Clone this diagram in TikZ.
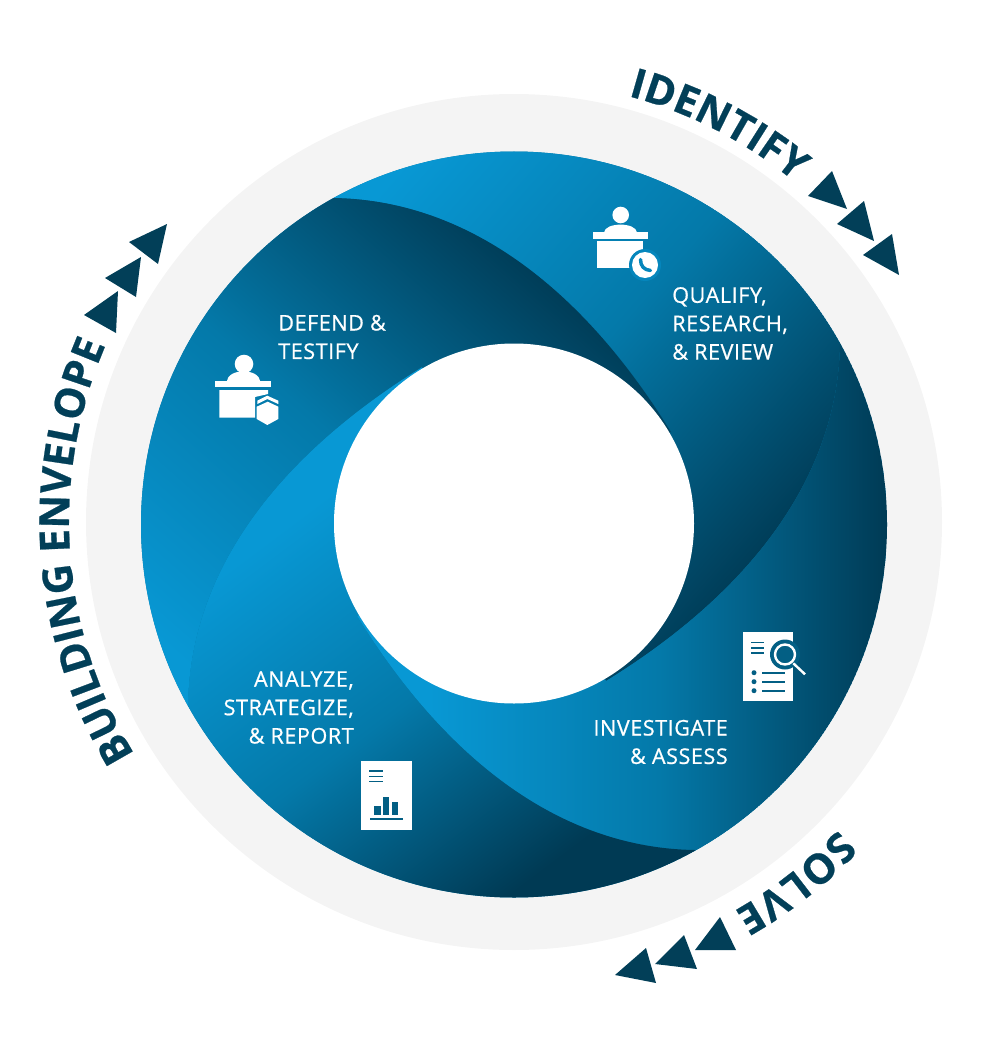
\documentclass[tikz,border=0pt]{standalone}
\usepackage{fontspec}
\usetikzlibrary{decorations.text}
\setmainfont{Open Sans}[BoldFeatures={FakeBold=0.6}]
\newfontfamily\lblfont[FakeBold=0.7,LetterSpace=2.5]{Open Sans}
\definecolor{bladeL}{HTML}{0898D4}
\definecolor{bladeM}{HTML}{0479A9}
\definecolor{bladeD}{HTML}{003A54}
\definecolor{ringgrey}{HTML}{F4F4F4}
\definecolor{navy}{HTML}{023F58}
\definecolor{iconblue}{HTML}{0586BC}
\definecolor{iconteal}{HTML}{035F84}
\pgfdeclarehorizontalshading{bladeTR}{100bp}{color(0bp)=(bladeL); color(29.9bp)=(bladeL); color(46.7bp)=(bladeM); color(63.6bp)=(bladeD); color(100bp)=(bladeD)}
\pgfdeclarehorizontalshading{bladeBR}{100bp}{color(0bp)=(bladeL); color(44.7bp)=(bladeL); color(59.1bp)=(bladeM); color(73.5bp)=(bladeD); color(100bp)=(bladeD)}
\pgfdeclarehorizontalshading{bladeBL}{100bp}{color(0bp)=(bladeL); color(41.5bp)=(bladeL); color(54.9bp)=(bladeM); color(68.4bp)=(bladeD); color(100bp)=(bladeD)}
\tikzset{
  tri/.style={fill=navy},
  lbl/.style={text=white,inner sep=0pt,font=\lblfont\fontsize{16.2}{21.3}\selectfont},
  ttl/.style={decorate,decoration={text along path,text align=fit to path,text color=navy,text format delimiters={|}{|}}}
}
\newcommand{\bladeshape}{(-235,-424) -- (154,-600) -- (424,-235) -- (326,-181) .. controls (324,-42) and (230,72) .. (92,157) -- (0,0) -- (157,-92) .. controls (72,-230) and (-42,-324) .. (-181,-326) -- cycle}
\newcommand{\ttlsize}{\bfseries\fontsize{31}{31}\selectfont}
\begin{document}
\begin{tikzpicture}[x=0.75pt,y=-0.75pt]
\useasboundingbox (0,0) rectangle (1000,1045);
\coordinate (g) at (514,522);
\coordinate (c) at (514,524.5);
\coordinate (h) at (514,523.5);
\fill[ringgrey] (g) circle[radius=428];
\begin{scope}
  \clip (c) circle[radius=373];
  \fill[bladeM] (c) circle[radius=373];
  \begin{scope}
    \clip[shift={(514,524)},rotate=0] \bladeshape;
    \shade[shading=bladeTR,shading angle=-41.3] (c) circle[radius=400];
  \end{scope}
  \begin{scope}
    \clip[shift={(514,524)},rotate=-90] \bladeshape;
    \shade[shading=bladeBR,shading angle=0] (c) circle[radius=400];
  \end{scope}
  \begin{scope}
    \clip[shift={(514,524)},rotate=-180] \bladeshape;
    \shade[shading=bladeBL,shading angle=-53.13] (c) circle[radius=400];
  \end{scope}
  \begin{scope}
    \clip[shift={(514,524)},rotate=-270] \bladeshape;
    \shade[shading=bladeTR,shading angle=48.7] (c) circle[radius=400];
  \end{scope}
\end{scope}
\fill[white] (h) circle[radius=180];

% titles
\path[ttl,decoration={text={|\ttlsize|IDENTIFY}}] (g) ++(-75:441) arc[start angle=-75,end angle=-50.5,radius=441];
\path[ttl,decoration={text={|\ttlsize|SOLVE}}] (g) ++(43.5:447) arc[start angle=43.5,end angle=60.5,radius=447];
\path[ttl,decoration={text={|\ttlsize|BUILDING ENVELOPE}}] (g) ++(148.5:445) arc[start angle=148.5,end angle=202,radius=445];

% triangles
\fill[tri] (832,171) -- (808,196) -- (847,209) -- cycle;
\fill[tri] (864,201) -- (837,224) -- (874,241) -- cycle;
\fill[tri] (892,234) -- (863,255) -- (899,275) -- cycle;
\fill[tri] (720,917) -- (695,950) -- (736,950) -- cycle;
\fill[tri] (684,935) -- (655,964) -- (697,969) -- cycle;
\fill[tri] (646,948) -- (615,975) -- (656,983) -- cycle;
\fill[tri] (167,224) -- (129,242) -- (158,264) -- cycle;
\fill[tri] (141,257) -- (105,278) -- (136,297) -- cycle;
\fill[tri] (118,291) -- (84,315) -- (116,333) -- cycle;

% labels
\node[lbl,align=left,anchor=west] (qualify) at (672,323.5) {QUALIFY,\\RESEARCH,\\\& REVIEW};
\node[lbl,align=left,anchor=west] (defend) at (278,337) {DEFEND \&\\TESTIFY};
\node[lbl,align=right,anchor=east] (analyze) at (354,707.5) {ANALYZE,\\STRATEGIZE,\\\& REPORT};
\node[lbl,align=right,anchor=east] (investigate) at (728,742) {INVESTIGATE\\\& ASSESS};

% desk + phone icon
\fill[white] (620.7,215) circle[radius=8.3];
\fill[white] (604,232.5) .. controls (605,222) and (636,222) .. (637,232.5) -- cycle;
\fill[white] (592.7,232.3) rectangle (648.3,239);
\fill[white] (596.7,241) rectangle (643.3,268.3);
\fill[iconblue] (645,265) circle[radius=16];
\fill[white] (645,265) circle[radius=13];
\draw[iconblue,line width=2.6pt,line cap=round] (640.5,259.5) .. controls (640.5,266) and (644,270) .. (650.5,270.5);

% desk + shield icon
\fill[white] (244,364) circle[radius=9.3];
\fill[white] (226.7,381.5) .. controls (228,368) and (259,368) .. (260.3,381.5) -- cycle;
\fill[white] (215,381) rectangle (271,387.3);
\fill[white] (219.3,390) -- (268,390) -- (268,394) -- (255,397) -- (255,417.7) -- (219.3,417.7) -- cycle;
\fill[white] (257.3,400.7) -- (267.3,395.7) -- (278.3,400.7) -- (278.3,404) -- (267.3,399) -- (257.3,404) -- cycle;
\fill[white] (256.7,406.7) -- (267.7,401.7) -- (278.3,406.7) -- (278.3,419) -- (267.3,425) -- (256.7,419) -- cycle;

% document + magnifier icon
\fill[white] (742.7,632.3) rectangle (793.3,701);
\foreach \yy in {642.3,647.7,652.7} \draw[iconteal,line width=1.2pt] (751,\yy) -- (764.3,\yy);
\foreach \yy in {672.7,681.7,690.7} {
  \fill[iconteal] (754,\yy) circle[radius=2.5];
  \draw[iconteal,line width=1.2pt] (762.3,\yy) -- (785,\yy);
}
\fill[iconteal] (785,654.5) circle[radius=15];
\draw[white,line width=1.8pt] (785,654.5) circle[radius=10];
\draw[white,line width=1.8pt] (793.3,663.3) -- (805,674.3);

% report icon
\fill[white] (361,761) rectangle (412.3,830.3);
\foreach \yy in {771,776.3,781.3} \draw[iconteal,line width=1.1pt] (369.3,\yy) -- (382.7,\yy);
\fill[iconteal] (374,805.7) rectangle (380.7,815);
\fill[iconteal] (383,797) rectangle (389.3,815);
\fill[iconteal] (392,802) rectangle (398.3,815);
\draw[iconteal,line width=1.4pt] (370,819.3) -- (402.7,819.3);
\end{tikzpicture}
\end{document}
